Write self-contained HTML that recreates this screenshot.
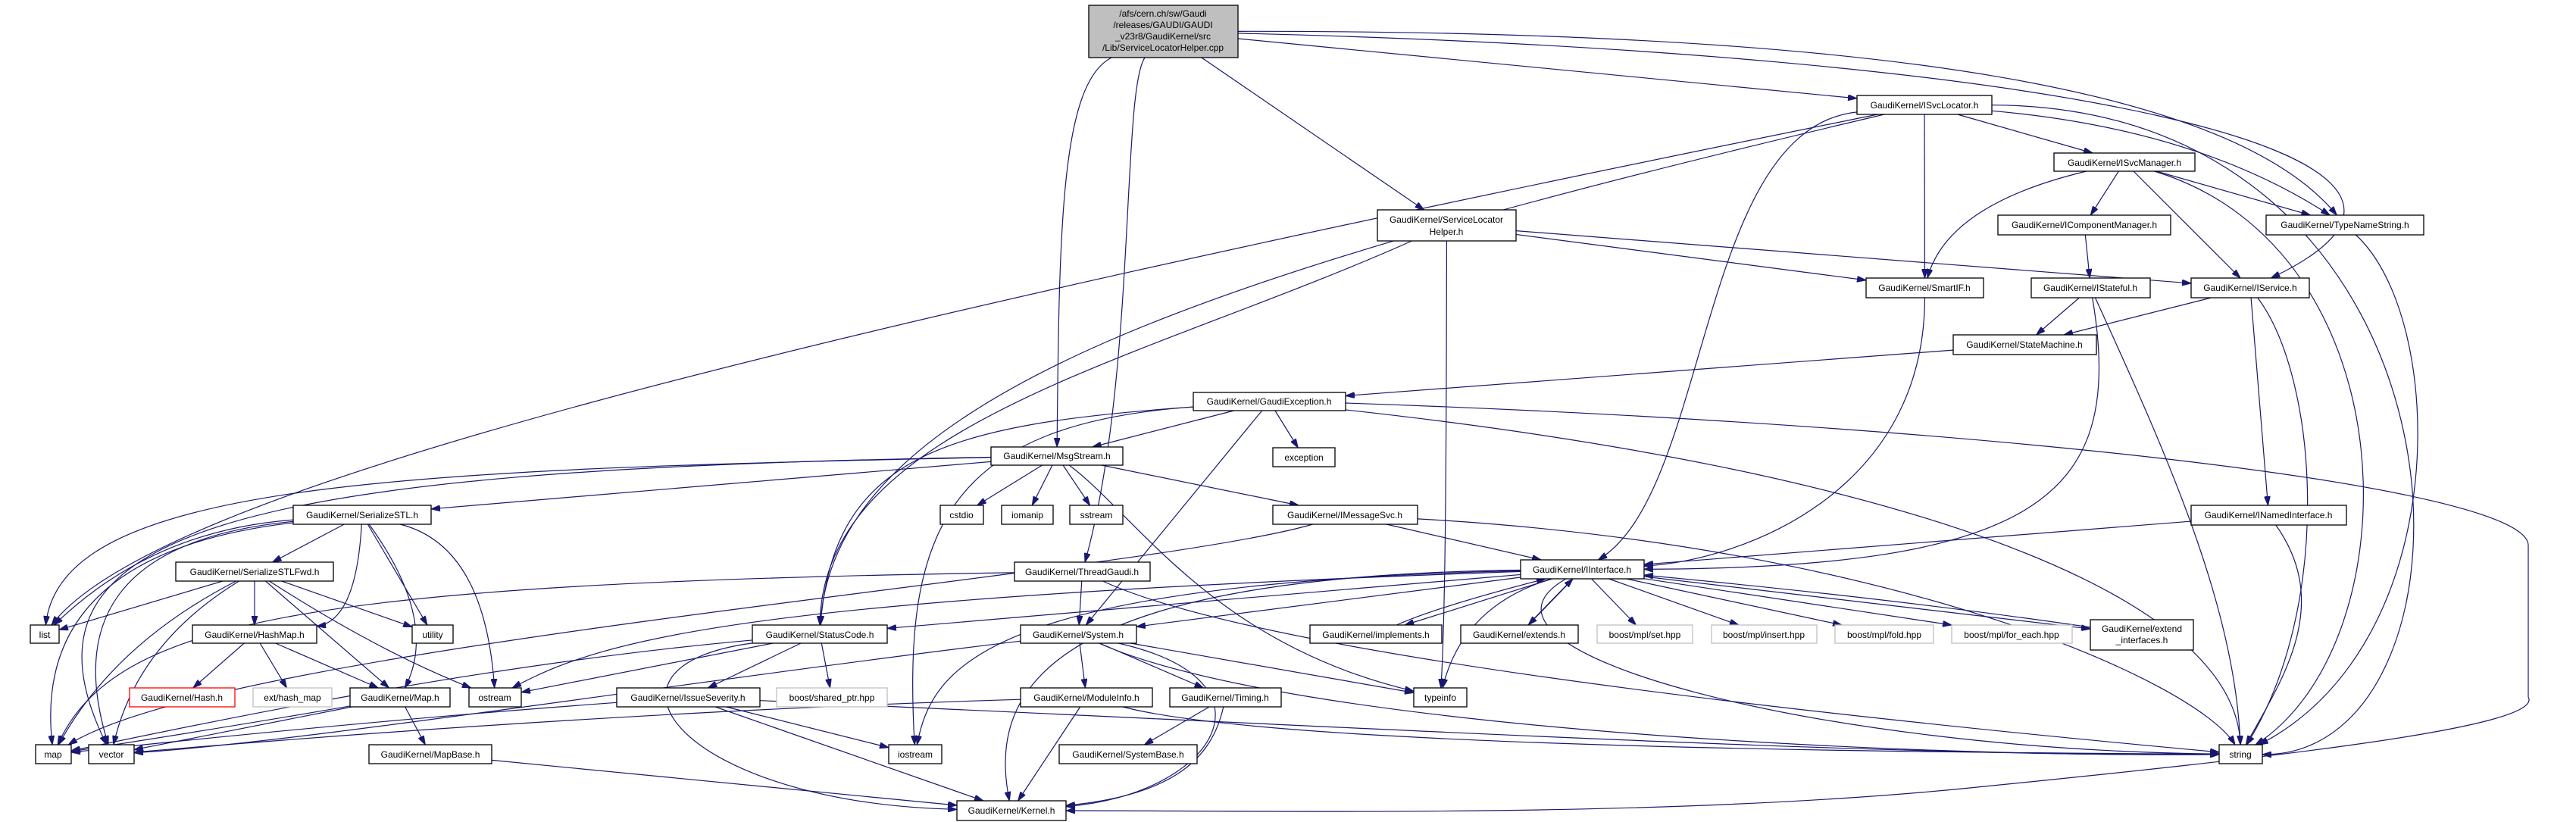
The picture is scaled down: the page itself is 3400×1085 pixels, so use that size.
<!DOCTYPE html>
<html><head><meta charset="utf-8"><style>
html,body{margin:0;padding:0;background:#fff;}
svg{display:block}
text{font-family:"Liberation Sans",Arial,sans-serif;font-size:12px;fill:#000;text-anchor:middle}
</style></head><body>
<svg id="g" width="3400" height="1085" viewBox="0 0 3400 1085" xmlns="http://www.w3.org/2000/svg">
<defs><marker id="a" viewBox="0 0 12 8" refX="12" refY="4" markerWidth="12" markerHeight="8" markerUnits="userSpaceOnUse" orient="auto"><path d="M0,0L12,4L0,8z" fill="#191970" stroke="#191970"/></marker></defs>
<g id="edges" fill="none" stroke="#191970" stroke-width="1.2"></g>
<g id="nodes" stroke-width="1.3">
<rect x="1437" y="7" width="197" height="69" fill="#bfbfbf" stroke="#000"/><text x="1535" y="22"><tspan x="1535" dy="0">/afs/cern.ch/sw/Gaudi</tspan><tspan x="1535" dy="15">/releases/GAUDI/GAUDI</tspan><tspan x="1535" dy="15">_v23r8/GaudiKernel/src</tspan><tspan x="1535" dy="15">/Lib/ServiceLocatorHelper.cpp</tspan></text>
<rect x="2451" y="126" width="178" height="25" fill="#fff" stroke="#000"/><text x="2540" y="143">GaudiKernel/ISvcLocator.h</text>
<rect x="2711" y="202" width="186" height="24" fill="#fff" stroke="#000"/><text x="2804" y="219">GaudiKernel/ISvcManager.h</text>
<rect x="1818" y="277" width="183" height="41" fill="#fff" stroke="#000"/><text x="1909" y="294">GaudiKernel/ServiceLocator</text><text x="1909" y="310">Helper.h</text>
<rect x="2637" y="284" width="228" height="26" fill="#fff" stroke="#000"/><text x="2751" y="301">GaudiKernel/IComponentManager.h</text>
<rect x="2991" y="284" width="208" height="26" fill="#fff" stroke="#000"/><text x="3095" y="301">GaudiKernel/TypeNameString.h</text>
<rect x="2463" y="367" width="155" height="26" fill="#fff" stroke="#000"/><text x="2540" y="384">GaudiKernel/SmartIF.h</text>
<rect x="2681" y="367" width="157" height="26" fill="#fff" stroke="#000"/><text x="2759" y="384">GaudiKernel/IStateful.h</text>
<rect x="2892" y="367" width="156" height="26" fill="#fff" stroke="#000"/><text x="2970" y="384">GaudiKernel/IService.h</text>
<rect x="2578" y="442" width="189" height="26" fill="#fff" stroke="#000"/><text x="2672" y="459">GaudiKernel/StateMachine.h</text>
<rect x="1575" y="518" width="201" height="24" fill="#fff" stroke="#000"/><text x="1675" y="534">GaudiKernel/GaudiException.h</text>
<rect x="1308" y="590" width="174" height="24" fill="#fff" stroke="#000"/><text x="1395" y="606">GaudiKernel/MsgStream.h</text>
<rect x="1680" y="591" width="82" height="25" fill="#fff" stroke="#000"/><text x="1721" y="608">exception</text>
<rect x="387" y="667" width="182" height="25" fill="#fff" stroke="#000"/><text x="478" y="684">GaudiKernel/SerializeSTL.h</text>
<rect x="1241" y="667" width="57" height="25" fill="#fff" stroke="#000"/><text x="1269" y="684">cstdio</text>
<rect x="1322" y="667" width="68" height="25" fill="#fff" stroke="#000"/><text x="1356" y="684">iomanip</text>
<rect x="1412" y="667" width="70" height="25" fill="#fff" stroke="#000"/><text x="1447" y="684">sstream</text>
<rect x="1680" y="667" width="191" height="25" fill="#fff" stroke="#000"/><text x="1775" y="684">GaudiKernel/IMessageSvc.h</text>
<rect x="2892" y="667" width="205" height="26" fill="#fff" stroke="#000"/><text x="2994" y="684">GaudiKernel/INamedInterface.h</text>
<rect x="232" y="742" width="208" height="25" fill="#fff" stroke="#000"/><text x="336" y="759">GaudiKernel/SerializeSTLFwd.h</text>
<rect x="1339" y="742" width="179" height="25" fill="#fff" stroke="#000"/><text x="1428" y="759">GaudiKernel/ThreadGaudi.h</text>
<rect x="2007" y="739" width="163" height="25" fill="#fff" stroke="#000"/><text x="2088" y="756">GaudiKernel/IInterface.h</text>
<rect x="40" y="825" width="38" height="24" fill="#fff" stroke="#000"/><text x="59" y="842">list</text>
<rect x="254" y="825" width="164" height="24" fill="#fff" stroke="#000"/><text x="336" y="842">GaudiKernel/HashMap.h</text>
<rect x="544" y="825" width="54" height="24" fill="#fff" stroke="#000"/><text x="571" y="842">utility</text>
<rect x="993" y="825" width="178" height="24" fill="#fff" stroke="#000"/><text x="1082" y="842">GaudiKernel/StatusCode.h</text>
<rect x="1347" y="825" width="153" height="24" fill="#fff" stroke="#000"/><text x="1423" y="842">GaudiKernel/System.h</text>
<rect x="1729" y="825" width="174" height="24" fill="#fff" stroke="#000"/><text x="1816" y="842">GaudiKernel/implements.h</text>
<rect x="1928" y="825" width="155" height="24" fill="#fff" stroke="#000"/><text x="2005" y="842">GaudiKernel/extends.h</text>
<rect x="2108" y="825" width="126" height="24" fill="#fff" stroke="#bfbfbf"/><text x="2171" y="842">boost/mpl/set.hpp</text>
<rect x="2259" y="825" width="139" height="24" fill="#fff" stroke="#bfbfbf"/><text x="2328" y="842">boost/mpl/insert.hpp</text>
<rect x="2422" y="825" width="130" height="24" fill="#fff" stroke="#bfbfbf"/><text x="2487" y="842">boost/mpl/fold.hpp</text>
<rect x="2576" y="825" width="159" height="24" fill="#fff" stroke="#bfbfbf"/><text x="2655" y="842">boost/mpl/for_each.hpp</text>
<rect x="2759" y="818" width="136" height="40" fill="#fff" stroke="#000"/><text x="2827" y="834">GaudiKernel/extend</text><text x="2827" y="849">_interfaces.h</text>
<rect x="171" y="908" width="139" height="25" fill="#fff" stroke="#f00"/><text x="240" y="925">GaudiKernel/Hash.h</text>
<rect x="334" y="908" width="104" height="25" fill="#fff" stroke="#bfbfbf"/><text x="386" y="925">ext/hash_map</text>
<rect x="462" y="908" width="132" height="25" fill="#fff" stroke="#000"/><text x="528" y="925">GaudiKernel/Map.h</text>
<rect x="619" y="908" width="69" height="25" fill="#fff" stroke="#000"/><text x="653" y="925">ostream</text>
<rect x="814" y="908" width="189" height="25" fill="#fff" stroke="#000"/><text x="908" y="925">GaudiKernel/IssueSeverity.h</text>
<rect x="1025" y="908" width="146" height="25" fill="#fff" stroke="#bfbfbf"/><text x="1098" y="925">boost/shared_ptr.hpp</text>
<rect x="1347" y="908" width="174" height="25" fill="#fff" stroke="#000"/><text x="1434" y="925">GaudiKernel/ModuleInfo.h</text>
<rect x="1544" y="908" width="147" height="25" fill="#fff" stroke="#000"/><text x="1617" y="925">GaudiKernel/Timing.h</text>
<rect x="1866" y="908" width="70" height="25" fill="#fff" stroke="#000"/><text x="1901" y="925">typeinfo</text>
<rect x="47" y="983" width="47" height="25" fill="#fff" stroke="#000"/><text x="70" y="1000">map</text>
<rect x="117" y="983" width="60" height="25" fill="#fff" stroke="#000"/><text x="147" y="1000">vector</text>
<rect x="487" y="983" width="162" height="25" fill="#fff" stroke="#000"/><text x="568" y="1000">GaudiKernel/MapBase.h</text>
<rect x="1173" y="983" width="70" height="25" fill="#fff" stroke="#000"/><text x="1208" y="1000">iostream</text>
<rect x="1398" y="983" width="182" height="25" fill="#fff" stroke="#000"/><text x="1489" y="1000">GaudiKernel/SystemBase.h</text>
<rect x="2929" y="983" width="57" height="25" fill="#fff" stroke="#000"/><text x="2957" y="1000">string</text>
<rect x="1263" y="1057" width="144" height="26" fill="#fff" stroke="#000"/><text x="1335" y="1074">GaudiKernel/Kernel.h</text>
</g>
</svg>
<script>
var N={};
document.querySelectorAll('#nodes rect').forEach(function(r,i){});
var names=["cpp","ISvcLocator","ISvcManager","SLH","ICompMgr","TNS","SmartIF","IStateful","IService","StateMachine","GE","MsgStream","exception","SSTL","cstdio","iomanip","sstream","IMsgSvc","INamed","SSTLFwd","Thread","IInterface","list","HashMap","utility","StatusCode","System","implements","extends","mset","minsert","mfold","mforeach","extint","Hash","exthash","Map","ostream","IssueSev","sharedptr","ModuleInfo","Timing","typeinfo","map","vector","MapBase","iostream","SystemBase","string","Kernel"];
var rs=document.querySelectorAll('#nodes rect');
rs.forEach(function(r,i){var x=+r.getAttribute('x'),y=+r.getAttribute('y'),w=+r.getAttribute('width'),h=+r.getAttribute('height');N[names[i]]={cx:x+w/2,cy:y+h/2,hw:w/2,hh:h/2};});
function clip(b,px,py){var dx=px-b.cx,dy=py-b.cy;if(dx==0&&dy==0)return[b.cx,b.cy];var t=Math.min(dx?b.hw/Math.abs(dx):1e9,dy?b.hh/Math.abs(dy):1e9);return[b.cx+dx*t,b.cy+dy*t];}
var E=[
["cpp","MsgStream",1400,110,1398,300],["cpp","Thread",1480,120,1500,500],["cpp","SLH"],["cpp","ISvcLocator"],
["cpp","TNS",2500,40,2950,120],["cpp","IService",2700,70,3350,200],
["ISvcLocator","ISvcManager"],["ISvcLocator","SmartIF"],["ISvcLocator","list",1000,450,200,650],
["ISvcLocator","IInterface",2240,170,2258,650],["ISvcLocator","string",3288,140,3300,1000],["ISvcLocator","TNS",2900,170],
["ISvcLocator","StatusCode",1600,360,1100,520],
["ISvcManager","SmartIF",2570,270],["ISvcManager","ICompMgr"],["ISvcManager","TNS"],["ISvcManager","IService"],
["ISvcManager","string",3185,330,3185,850],
["SLH","SmartIF"],["SLH","IService"],["SLH","StatusCode",1500,480,1085,560],["SLH","typeinfo",1909,500,1909,800],
["ICompMgr","IStateful"],["TNS","string",3230,420,3240,850],
["IStateful","StateMachine"],["IStateful","IInterface",2805,650,2700,750],["IStateful","string",2860,600,2950,800],
["IService","StateMachine"],["IService","INamed"],["IService","string",3060,500,3080,800],
["SmartIF","IInterface",2540,650,2300,740],["StateMachine","GE"],
["GE","MsgStream"],["GE","StatusCode",1250,560,1100,600],["GE","exception"],["GE","System"],
["GE","iostream",1250,560,1190,700],["GE","string",2500,620,2950,780],
["MsgStream","cstdio"],["MsgStream","iomanip"],["MsgStream","sstream"],["MsgStream","IMsgSvc"],["MsgStream","SSTL"],
["MsgStream","list",500,620,80,640],["MsgStream","vector",300,620,0,700],["MsgStream","typeinfo",1500,680,1600,850],
["IMsgSvc","IInterface"],["IMsgSvc","string",2500,720,2900,900],["IMsgSvc","map",1500,760,300,850],
["INamed","IInterface"],["INamed","string",3080,800,3010,900],
["SSTL","SSTLFwd"],["SSTL","HashMap",470,820],["SSTL","utility"],["SSTL","ostream",640,720],["SSTL","Map",580,820],["SSTL","list",200,700],["SSTL","map",40,730],["SSTL","vector",60,720],
["SSTLFwd","list"],["SSTLFwd","HashMap"],["SSTLFwd","utility"],["SSTLFwd","Map"],["SSTLFwd","ostream",500,860],["SSTLFwd","map",150,850],["SSTLFwd","vector",180,850],
["HashMap","Hash"],["HashMap","exthash"],["HashMap","Map"],
["Map","MapBase"],["Map","map",300,960],["Map","vector"],["MapBase","Kernel"],
["Thread","System"],["Thread","string",1700,880],["Thread","map",400,770,150,820],
["IInterface","StatusCode"],["IInterface","System"],["IInterface","implements"],["implements","IInterface",1900,800],
["IInterface","extends"],["extends","IInterface",2050,790],["IInterface","mset"],["IInterface","minsert"],["IInterface","mfold"],["IInterface","mforeach"],
["IInterface","extint"],["extint","IInterface",2500,790],["IInterface","typeinfo",1930,800],["IInterface","string",1900,860,2400,990],
["IInterface","ostream",1000,790,800,840],["IInterface","Kernel",1400,760,1300,900],["IInterface","iostream",1300,770,1230,880],
["StatusCode","ostream"],["StatusCode","IssueSev"],["StatusCode","sharedptr"],["StatusCode","Kernel",760,880,900,1060],["StatusCode","map",600,880,200,970],
["System","ModuleInfo"],["System","Timing"],["System","typeinfo"],["System","string",1700,960,2500,1000],["System","Kernel",1700,900,1600,1050],["System","vector",900,900,400,980],
["ModuleInfo","Kernel"],["ModuleInfo","vector",800,940],["ModuleInfo","string",1700,990],
["Timing","SystemBase"],["Timing","Kernel",1600,1000,1550,1050],
["IssueSev","map",500,950],["IssueSev","iostream"],["IssueSev","Kernel"],["IssueSev","string",1800,960,2500,1000]
];
var g=document.getElementById('edges'),NS="http://www.w3.org/2000/svg";
E.forEach(function(e){var s=N[e[0]],t=N[e[1]],d;
 if(e.length==2){var p=clip(s,t.cx,t.cy),q=clip(t,s.cx,s.cy);d="M"+p+"L"+q;}
 else if(e.length==4){var p=clip(s,e[2],e[3]),q=clip(t,e[2],e[3]);d="M"+p+"Q"+e[2]+","+e[3]+" "+q;}
 else{var p=clip(s,e[2],e[3]),q=clip(t,e[4],e[5]);d="M"+p+"C"+e[2]+","+e[3]+" "+e[4]+","+e[5]+" "+q;}
 var el=document.createElementNS(NS,"path");el.setAttribute("d",d);el.setAttribute("marker-end","url(#a)");g.appendChild(el);});
var el=document.createElementNS(NS,"path");el.setAttribute("d","M1776,532 C2600,560 3337,640 3337,720 L3337,920 C3360,960 3000,1000 2600,1040 C2200,1080 1700,1070 1407,1070");el.setAttribute("marker-end","url(#a)");g.appendChild(el);
</script>
</body></html>
